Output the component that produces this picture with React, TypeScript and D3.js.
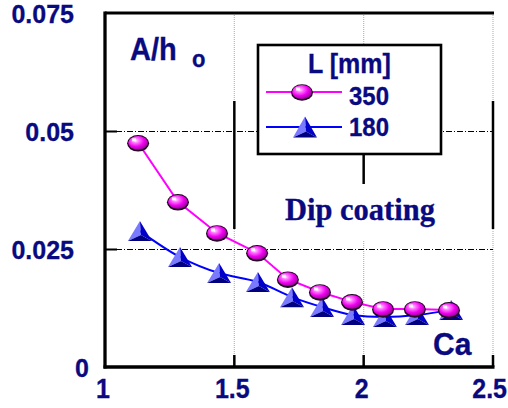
import React from "react";
import * as d3 from "d3";

const ca350 = [1.128, 1.282, 1.433, 1.588, 1.707, 1.831, 1.955, 2.075, 2.198, 2.33];
const ah350 = [0.0475, 0.035, 0.0284, 0.0242, 0.0186, 0.0159, 0.0138, 0.0123, 0.0123, 0.0121];
const ca180 = [1.135, 1.29, 1.441, 1.591, 1.723, 1.839, 1.959, 2.082, 2.206, 2.338];
const ah180 = [0.0288, 0.0233, 0.0199, 0.018, 0.0148, 0.0127, 0.011, 0.0106, 0.011, 0.0121];
const xTicks = [1, 1.5, 2, 2.5];
const xTickLabels = ["1", "1.5", "2", "2.5"];
const yTicks = [0, 0.025, 0.05, 0.075];
const yTickLabels = ["0", "0.025", "0.05", "0.075"];
const legendTitle = "L [mm]";
const seriesNames = ["350", "180"];

const W = 508, H = 408;
const NAVY = "#0a0a80";
const SANS = "'Liberation Sans', Arial, sans-serif";
const SERIF = "'Liberation Serif', 'Times New Roman', serif";

const x = d3.scaleLinear().domain([1, 2.5]).range([105, 493]);
const y = d3.scaleLinear().domain([0, 0.075]).range([367, 13]);

function T({ x: tx, y: ty, size, anchor = "start", family = SANS, sy = 1.1, children }: any) {
  return (
    <text
      transform={`translate(${tx},${ty}) scale(1,${sy})`}
      fontFamily={family}
      fontWeight="bold"
      fontSize={size}
      fill={NAVY}
      stroke={NAVY}
      strokeWidth={0.3}
      textAnchor={anchor}
    >
      {children}
    </text>
  );
}

function Sphere({ cx, cy, rx = 10.5, ry = 7.5 }: any) {
  return (
    <g>
      <ellipse cx={cx} cy={cy + 0.5} rx={rx + 0.5} ry={ry + 0.8} fill="#200020" />
      <ellipse cx={cx} cy={cy} rx={rx - 0.6} ry={ry - 0.6} fill="url(#sph)" />
      <rect x={cx - 6} y={cy - 4.5} width={4} height={3} fill="#ffffff" opacity={0.9} />
    </g>
  );
}

function Tri({ cx, cy, w = 24, h = 20 }: any) {
  const A = [cx, cy - h / 2];
  const BL = [cx - w / 2, cy + h / 2];
  const BR = [cx + w / 2, cy + h / 2];
  const P = [cx + 1, cy + h / 2 - 6];
  const pts = (a: number[][]) => a.map((p) => p.join(",")).join(" ");
  return (
    <g>
      <polygon points={pts([A, BL, P])} fill="#7a7aff" />
      <polygon points={pts([A, P, BR])} fill="#0000c8" />
      <polygon points={pts([BL, P, BR])} fill="#000080" />
    </g>
  );
}

export default function App() {
  const d350 = ca350.map((c, i) => [c, ah350[i]] as [number, number]);
  const d180 = ca180.map((c, i) => [c, ah180[i]] as [number, number]);
  const lineLin = d3.line<[number, number]>().x((d) => x(d[0])).y((d) => y(d[1]));
  const lineCurve = d3
    .line<[number, number]>()
    .x((d) => x(d[0]))
    .y((d) => y(d[1]))
    .curve(d3.curveCatmullRom.alpha(0.5));

  const top = y(0.075), bottom = y(0), left = x(1), right = x(2.5);
  const segTop = 101, segBot = 229;

  return (
    <svg width={W} height={H} style={{ position: "fixed", left: 0, top: 0, background: "#fff" }}>
      <defs>
        <radialGradient id="sph" cx="38%" cy="35%" r="70%">
          <stop offset="0%" stopColor="#ffe0ff" />
          <stop offset="25%" stopColor="#ff70ff" />
          <stop offset="60%" stopColor="#f000f0" />
          <stop offset="100%" stopColor="#900090" />
        </radialGradient>
      </defs>
      <rect x={0} y={0} width={W} height={H} fill="#fff" />

      {/* vertical dotted gridlines */}
      {xTicks.slice(1).map((t) => (
        <line key={"vg" + t} x1={x(t)} x2={x(t)} y1={top} y2={bottom} stroke="#b8b8b8" strokeWidth={1.2} strokeDasharray="1 1" />
      ))}
      {/* black vertical segments */}
      {xTicks.slice(1).map((t) => (
        <line key={"vs" + t} x1={x(t)} x2={x(t)} y1={segTop} y2={segBot} stroke="#000" strokeWidth={2.5} />
      ))}
      {/* horizontal dash-dot gridlines */}
      {yTicks.slice(1, 3).map((t) => (
        <line key={"hg" + t} x1={left} x2={right} y1={Math.round(y(t)) + 0.5} y2={Math.round(y(t)) + 0.5} stroke="#000" strokeWidth={1} strokeDasharray="6 2 1 2" />
      ))}
      {/* inner ticks */}
      {yTicks.slice(1, 3).map((t) => (
        <line key={"yt" + t} x1={left} x2={left + 12} y1={y(t) + 0.5} y2={y(t) + 0.5} stroke="#000" strokeWidth={2} />
      ))}
      {xTicks.slice(1).map((t) => (
        <line key={"xt" + t} x1={x(t)} x2={x(t)} y1={bottom - 12} y2={bottom} stroke="#000" strokeWidth={2.5} />
      ))}

      {/* frame */}
      <line x1={left} x2={right + 1} y1={top} y2={top} stroke="#000" strokeWidth={3} />
      <line x1={left} x2={left} y1={top - 1.5} y2={bottom + 1.5} stroke="#000" strokeWidth={3.3} />
      <line x1={left - 1.5} x2={right + 1.5} y1={bottom} y2={bottom} stroke="#000" strokeWidth={3.3} />

      {/* Dip coating label box */}
      <rect x={280} y={184} width={165} height={56} fill="#fff" />
      <T x={285} y={220} size={30.5} family={SERIF} sy={1.05}>Dip coating</T>

      {/* series 180 */}
      <path d={lineCurve(d180) || ""} fill="none" stroke="#0000ff" strokeWidth={2} />
      {d180.map((d, i) => (
        <Tri key={"t" + i} cx={x(d[0])} cy={y(d[1])} />
      ))}
      {/* series 350 */}
      <path d={lineLin(d350) || ""} fill="none" stroke="#ff00ff" strokeWidth={2} />
      {d350.map((d, i) => (
        <Sphere key={"s" + i} cx={x(d[0])} cy={y(d[1])} />
      ))}

      {/* legend */}
      <rect x={258} y={45} width={183} height={109} fill="#fff" stroke="#000" strokeWidth={2.6} />
      <T x={308} y={73} size={25}>{legendTitle}</T>
      <line x1={266} x2={342} y1={92} y2={92} stroke="#ff00ff" strokeWidth={2} />
      <Sphere cx={302} cy={92} />
      <T x={349} y={105} size={24}>{seriesNames[0]}</T>
      <line x1={266} x2={342} y1={127} y2={127} stroke="#0000ff" strokeWidth={2} />
      <Tri cx={305} cy={127} w={24} h={21} />
      <T x={349} y={136} size={24}>{seriesNames[1]}</T>

      {/* y tick labels */}
      {yTicks.map((t, i) => (
        <T key={"yl" + t} x={t === 0 ? 89 : 74} y={Math.max(y(t) + 9.5, 23)} size={25} anchor="end" sy={1.05}>
          {yTickLabels[i]}
        </T>
      ))}
      {/* x tick labels */}
      {xTicks.map((t, i) =>
        i === xTicks.length - 1 ? (
          <T key={"xl" + t} x={W - 1} y={398} size={25} anchor="end">{xTickLabels[i]}</T>
        ) : (
          <T key={"xl" + t} x={x(t) - 2} y={398} size={25} anchor="middle">{xTickLabels[i]}</T>
        )
      )}

      {/* axis titles */}
      <T x={130} y={60} size={29}>A/h</T>
      <T x={192} y={67} size={22}>o</T>
      <T x={433} y={355} size={30} sy={1.05}>Ca</T>
    </svg>
  );
}
